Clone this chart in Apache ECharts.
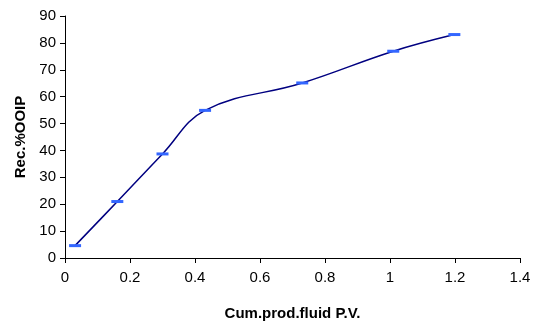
<!DOCTYPE html>
<html>
<head>
<meta charset="utf-8">
<script src="https://cdn.jsdelivr.net/npm/echarts@6/dist/echarts.min.js"></script>
<style>
  html, body { margin: 0; padding: 0; background: #fff; }
  #chart { width: 536px; height: 322px; }
</style>
</head>
<body>
<div id="chart"></div>
<script>
const pvValues = [0.031, 0.161, 0.30, 0.431, 0.730, 1.010, 1.198];
const recValues = [4.6, 21.0, 38.7, 54.9, 65.1, 76.9, 83.1];

const chart = echarts.init(document.getElementById('chart'));
const font = 'Liberation Sans, Arial, sans-serif';

chart.setOption({
    animation: false,
    grid: { left: 65, right: 16, top: 16, bottom: 64, outerBoundsMode: 'none' },
    xAxis: {
        type: 'value',
        min: 0, max: 1.4, interval: 0.2,
        name: 'Cum.prod.fluid P.V.',
        nameLocation: 'middle',
        nameGap: 48,
        nameTextStyle: { fontFamily: font, fontSize: 15, fontWeight: 'bold', color: '#000' },
        axisLine: { lineStyle: { color: '#000', width: 1 } },
        axisTick: { length: 5, lineStyle: { color: '#000' } },
        axisLabel: { fontFamily: font, fontSize: 15, color: '#000', margin: 12 },
        splitLine: { show: false }
    },
    yAxis: {
        type: 'value',
        min: 0, max: 90, interval: 10,
        name: 'Rec.%OOIP',
        nameLocation: 'middle',
        nameGap: 37,
        nameTextStyle: { fontFamily: font, fontSize: 15, fontWeight: 'bold', color: '#000' },
        axisLine: { show: true, lineStyle: { color: '#000', width: 1 } },
        axisTick: { show: true, length: 5, lineStyle: { color: '#000' } },
        axisLabel: { fontFamily: font, fontSize: 15, color: '#000', margin: 9 },
        splitLine: { show: false }
    },
    series: [{
        type: 'line',
        data: pvValues.map((x, i) => [x, recValues[i]]),
        smooth: 0.4,
        symbol: 'rect',
        symbolSize: [12, 3],
        itemStyle: { color: '#3366ff' },
        lineStyle: { color: '#000080', width: 1.5 }
    }]
});
</script>
</body>
</html>
